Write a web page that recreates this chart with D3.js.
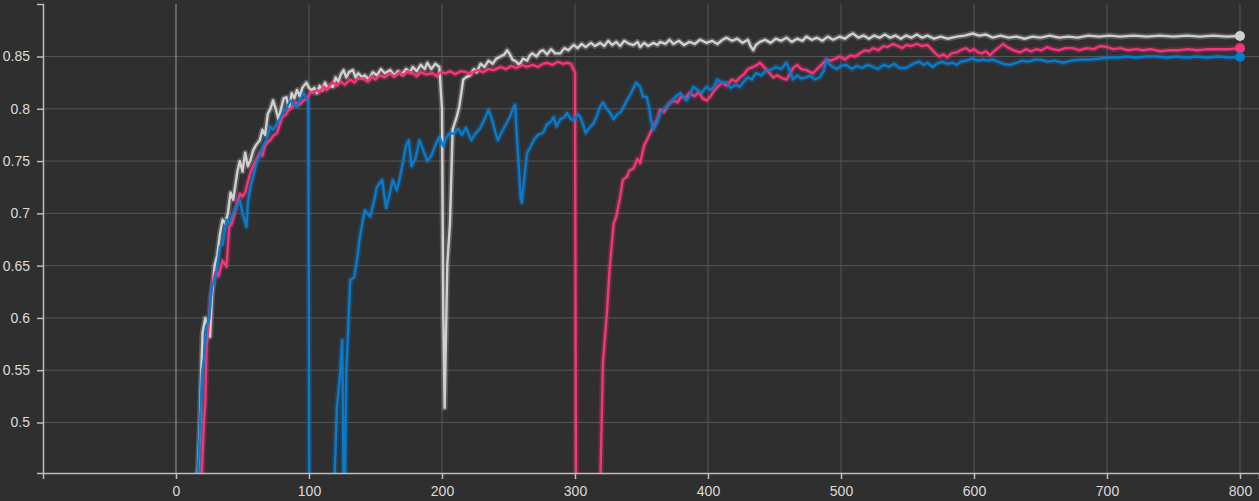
<!DOCTYPE html>
<html>
<head>
<meta charset="utf-8">
<script src="https://cdn.jsdelivr.net/npm/d3@7"></script>
<style>
  html, body { margin: 0; padding: 0; background: #2f2f2f; }
  svg { display: block; font-family: Roboto, "Noto Sans", sans-serif; }
  .axis text { fill: #dcdcdc; font-size: 14px; }
  .axis path, .axis line { stroke: #bdbdbd; }
</style>
</head>
<body>
<div id="chart"></div>
<script>

// x tick labels / y tick labels
var xTicks = [0, 100, 200, 300, 400, 500, 600, 700, 800];
var yTicks = [0.5, 0.55, 0.6, 0.65, 0.7, 0.75, 0.8, 0.85];

// smoothed runs, [step, value]
var grayRun = [[16,0.44],[18,0.50],[19,0.55],[20,0.586],[22,0.60],[24,0.59],[25.6,0.582],[27,0.62],[29,0.65],[31,0.66],[33,0.68],[35,0.694],[37,0.69],[39,0.70],[41,0.72],[43,0.713],[45,0.73],[46,0.739],[48,0.75],[50,0.74],[52,0.758],[54,0.745],[56,0.751],[58,0.76],[60,0.765],[63,0.77],[65,0.78],[67,0.775],[69,0.795],[71,0.80],[73,0.808],[75,0.80],[77,0.79],[79,0.80],[81,0.81],[83,0.811],[85,0.80],[87,0.815],[89,0.81],[91,0.818],[93,0.812],[95,0.82],[98,0.825],[100,0.82],[102,0.818],[104,0.82],[106,0.815],[108,0.822],[110,0.818],[112,0.825],[114,0.82],[116,0.822],[118,0.821],[120,0.83],[122,0.826],[124,0.833],[126,0.837],[128,0.83],[130,0.835],[133,0.837],[135,0.83],[137,0.834],[140,0.83],[142,0.832],[145,0.828],[148,0.835],[151,0.832],[154,0.838],[157,0.834],[161,0.837],[164,0.832],[167,0.836],[170,0.833],[173,0.838],[176,0.835],[178,0.84],[181,0.836],[184,0.842],[187,0.838],[189,0.844],[192,0.838],[195,0.843],[198,0.84],[200,0.80],[201,0.60],[202,0.514],[204,0.652],[206,0.69],[208,0.78],[211,0.792],[213,0.802],[216,0.828],[218,0.83],[221,0.832],[224,0.838],[226,0.835],[229,0.843],[232,0.84],[235,0.846],[238,0.843],[241,0.848],[244,0.85],[247,0.852],[249,0.856],[251,0.852],[253,0.847],[256,0.845],[258,0.842],[261,0.848],[264,0.846],[266,0.851],[268,0.853],[271,0.85],[274,0.855],[276,0.856],[279,0.852],[282,0.857],[285,0.853],[289,0.853],[292,0.858],[295,0.856],[299,0.861],[302,0.858],[305,0.862],[308,0.859],[312,0.863],[315,0.86],[319,0.863],[322,0.86],[325,0.865],[328,0.861],[331,0.864],[334,0.86],[337,0.865],[341,0.862],[344,0.861],[347,0.864],[349,0.859],[352,0.863],[355,0.86],[359,0.863],[362,0.861],[364,0.864],[368,0.862],[371,0.866],[374,0.862],[378,0.865],[382,0.861],[386,0.864],[390,0.862],[394,0.866],[399,0.863],[403,0.865],[407,0.862],[411,0.866],[414,0.868],[418,0.865],[422,0.867],[426,0.863],[430,0.866],[432,0.86],[434,0.856],[436,0.861],[439,0.864],[443,0.866],[447,0.863],[451,0.867],[455,0.865],[459,0.868],[463,0.864],[467,0.867],[471,0.865],[474,0.869],[478,0.866],[482,0.868],[486,0.865],[490,0.869],[494,0.866],[499,0.869],[503,0.867],[506,0.87],[509,0.872],[513,0.868],[517,0.87],[521,0.867],[525,0.87],[529,0.868],[533,0.871],[537,0.868],[541,0.87],[545,0.867],[549,0.87],[553,0.868],[557,0.871],[561,0.868],[565,0.87],[570,0.867],[575,0.869],[580,0.867],[587,0.869],[593,0.87],[599,0.872],[604,0.87],[609,0.871],[614,0.868],[620,0.87],[626,0.868],[632,0.869],[638,0.867],[644,0.869],[650,0.868],[657,0.87],[664,0.868],[671,0.869],[678,0.868],[686,0.87],[694,0.869],[702,0.87],[710,0.869],[720,0.87],[730,0.869],[740,0.87],[750,0.869],[760,0.87],[770,0.869],[780,0.87],[790,0.869],[800,0.8696]];

var pinkRun = [[19,0.44],[21,0.50],[22,0.519],[23,0.572],[25,0.60],[26,0.62],[28,0.636],[30,0.645],[32,0.64],[35,0.655],[38,0.649],[40,0.687],[42,0.69],[44,0.70],[46,0.71],[48,0.719],[50,0.716],[52,0.72],[54,0.73],[56,0.739],[58,0.745],[60,0.75],[63,0.758],[65,0.755],[67,0.765],[69,0.768],[71,0.77],[73,0.774],[76,0.777],[78,0.785],[80,0.792],[83,0.795],[85,0.80],[88,0.802],[90,0.806],[93,0.804],[96,0.808],[99,0.81],[101,0.816],[103,0.815],[106,0.818],[108,0.816],[111,0.821],[113,0.818],[116,0.823],[118,0.825],[121,0.822],[124,0.826],[127,0.823],[131,0.828],[134,0.825],[137,0.829],[141,0.829],[144,0.826],[147,0.831],[150,0.828],[153,0.832],[157,0.83],[161,0.834],[164,0.831],[168,0.835],[171,0.832],[174,0.836],[178,0.834],[181,0.831],[184,0.835],[188,0.833],[193,0.834],[196,0.831],[199,0.835],[203,0.834],[206,0.836],[210,0.833],[214,0.836],[218,0.835],[221,0.833],[223,0.835],[227,0.837],[231,0.835],[235,0.838],[239,0.837],[244,0.84],[248,0.838],[252,0.841],[256,0.839],[260,0.842],[264,0.84],[268,0.842],[272,0.84],[276,0.843],[279,0.844],[283,0.842],[287,0.845],[291,0.843],[294,0.844],[297,0.843],[299,0.837],[300,0.835],[301,0.3],[318,0.3],[319,0.44],[321,0.557],[324,0.605],[326,0.646],[329,0.69],[331,0.697],[334,0.716],[336,0.732],[339,0.735],[341,0.741],[344,0.743],[347,0.752],[349,0.748],[352,0.765],[354,0.77],[357,0.778],[359,0.783],[362,0.79],[364,0.799],[367,0.797],[370,0.804],[374,0.808],[377,0.806],[380,0.812],[383,0.81],[386,0.815],[390,0.812],[393,0.816],[396,0.81],[399,0.808],[402,0.812],[405,0.818],[408,0.822],[411,0.825],[414,0.822],[418,0.828],[421,0.826],[424,0.83],[427,0.833],[430,0.838],[434,0.84],[437,0.842],[439,0.844],[442,0.84],[445,0.836],[449,0.83],[452,0.832],[456,0.829],[459,0.828],[462,0.834],[464,0.839],[467,0.842],[470,0.838],[474,0.837],[477,0.835],[479,0.834],[482,0.838],[486,0.843],[489,0.847],[492,0.846],[496,0.848],[499,0.85],[503,0.847],[507,0.851],[511,0.85],[514,0.853],[518,0.856],[521,0.855],[524,0.858],[528,0.856],[532,0.86],[535,0.859],[539,0.862],[543,0.86],[546,0.858],[549,0.861],[553,0.86],[557,0.862],[561,0.86],[565,0.861],[568,0.857],[571,0.853],[574,0.85],[577,0.852],[580,0.849],[583,0.853],[587,0.854],[590,0.856],[594,0.858],[597,0.855],[600,0.857],[603,0.854],[606,0.853],[609,0.855],[612,0.851],[615,0.855],[619,0.859],[622,0.862],[625,0.859],[628,0.857],[632,0.855],[635,0.854],[639,0.857],[643,0.855],[647,0.857],[651,0.856],[655,0.859],[659,0.857],[664,0.856],[669,0.858],[674,0.858],[679,0.856],[685,0.858],[690,0.857],[695,0.86],[700,0.859],[705,0.857],[710,0.858],[716,0.856],[722,0.857],[727,0.856],[733,0.857],[740,0.855],[747,0.856],[754,0.856],[761,0.857],[768,0.856],[776,0.857],[784,0.857],[792,0.857],[800,0.858]];

var blueRun = [[16,0.44],[17.5,0.48],[19.5,0.547],[21,0.56],[23,0.592],[25,0.60],[27,0.63],[29,0.635],[31,0.649],[33,0.668],[35,0.67],[38,0.694],[40,0.69],[43,0.70],[45,0.705],[48,0.713],[50,0.70],[53,0.687],[54,0.71],[56,0.725],[58,0.735],[61,0.751],[63,0.755],[65,0.763],[68,0.77],[71,0.783],[73,0.78],[76,0.786],[78,0.79],[80,0.796],[83,0.80],[86,0.808],[88,0.805],[91,0.802],[93,0.808],[96,0.815],[98,0.81],[99.5,0.808],[100.5,0.3],[118,0.3],[119,0.44],[121,0.515],[123,0.54],[125,0.579],[126,0.44],[127,0.44],[128,0.547],[131,0.636],[134,0.639],[136,0.655],[138,0.675],[140,0.69],[142,0.703],[144,0.70],[146,0.697],[149,0.712],[151,0.725],[155,0.732],[158,0.705],[160,0.715],[163,0.732],[166,0.722],[168,0.732],[171,0.751],[173,0.765],[175,0.77],[177,0.745],[180,0.752],[183,0.77],[186,0.76],[189,0.75],[192,0.755],[195,0.765],[198,0.773],[201,0.764],[203,0.772],[206,0.777],[209,0.776],[212,0.781],[215,0.775],[218,0.782],[222,0.77],[225,0.776],[229,0.782],[232,0.79],[235,0.799],[238,0.788],[240,0.778],[242,0.77],[245,0.778],[248,0.785],[251,0.792],[254,0.802],[255,0.804],[256,0.78],[258,0.74],[259,0.716],[260,0.71],[262,0.735],[264,0.758],[266,0.762],[269,0.77],[272,0.775],[276,0.777],[279,0.785],[282,0.788],[284,0.792],[286,0.783],[289,0.79],[292,0.792],[294,0.796],[297,0.79],[299,0.789],[302,0.795],[304,0.792],[306,0.785],[308,0.777],[311,0.782],[314,0.786],[317,0.795],[319,0.802],[321,0.806],[324,0.80],[327,0.795],[329,0.79],[332,0.795],[334,0.796],[337,0.803],[339,0.808],[341,0.812],[344,0.82],[346,0.825],[349,0.821],[351,0.812],[354,0.811],[356,0.799],[357,0.79],[359,0.78],[362,0.788],[364,0.796],[367,0.80],[369,0.802],[372,0.806],[376,0.812],[379,0.815],[381,0.812],[384,0.808],[387,0.815],[389,0.821],[392,0.818],[395,0.815],[399,0.821],[402,0.818],[405,0.822],[407,0.828],[410,0.825],[414,0.825],[417,0.82],[421,0.823],[424,0.821],[427,0.826],[430,0.83],[433,0.828],[436,0.834],[440,0.832],[444,0.837],[447,0.837],[451,0.84],[455,0.838],[459,0.844],[461,0.838],[464,0.828],[467,0.832],[470,0.829],[474,0.83],[477,0.832],[480,0.828],[484,0.83],[487,0.836],[489,0.847],[491,0.843],[494,0.84],[497,0.838],[500,0.841],[504,0.842],[508,0.838],[512,0.841],[516,0.839],[520,0.842],[524,0.84],[528,0.838],[532,0.842],[536,0.84],[540,0.843],[544,0.839],[549,0.839],[553,0.842],[556,0.844],[559,0.845],[562,0.842],[565,0.844],[569,0.84],[572,0.843],[576,0.845],[580,0.843],[584,0.844],[587,0.842],[590,0.845],[594,0.846],[599,0.848],[603,0.846],[607,0.847],[611,0.846],[614,0.847],[618,0.845],[622,0.843],[627,0.842],[632,0.844],[636,0.846],[641,0.845],[646,0.847],[650,0.847],[655,0.845],[661,0.846],[667,0.844],[673,0.846],[680,0.847],[687,0.847],[694,0.848],[701,0.849],[708,0.849],[715,0.85],[722,0.849],[730,0.85],[737,0.85],[745,0.849],[752,0.85],[760,0.849],[768,0.85],[775,0.849],[783,0.85],[792,0.849],[800,0.8496]];

var runs = [
  {name: "gray", color: "#d0d0d0", values: grayRun},
  {name: "pink", color: "#f4347b", values: pinkRun},
  {name: "blue", color: "#0a7acb", values: blueRun}
];

var margin = {top: 4, right: 0, bottom: 28, left: 43},
    width = 1259 - margin.left - margin.right,
    height = 501 - margin.top - margin.bottom;

var x = d3.scaleLinear().domain([-100, 814.3]).range([0, width]);
var y = d3.scaleLinear().domain([0.4517, 0.9002]).range([height, 0]);

var svg = d3.select("#chart").append("svg")
    .attr("width", width + margin.left + margin.right)
    .attr("height", height + margin.top + margin.bottom)
  .append("g")
    .attr("transform", "translate(" + margin.left + "," + margin.top + ")");

svg.append("defs").append("clipPath").attr("id", "clip")
  .append("rect").attr("width", width).attr("height", height);

// grid
svg.append("g").selectAll("line").data(yTicks).enter().append("line")
    .attr("x1", 0).attr("x2", width)
    .attr("y1", function(d) { return y(d); })
    .attr("y2", function(d) { return y(d); })
    .attr("stroke", "#555").attr("stroke-width", 1);

svg.append("g").selectAll("line").data(xTicks).enter().append("line")
    .attr("x1", function(d) { return x(d); })
    .attr("x2", function(d) { return x(d); })
    .attr("y1", 0).attr("y2", height)
    .attr("stroke", function(d) { return d === 0 ? "#9a9a9a" : "#575757"; })
    .attr("stroke-width", 1);

var line = d3.line()
    .x(function(d) { return x(d[0]); })
    .y(function(d) { return y(d[1]); });

var plot = svg.append("g").attr("clip-path", "url(#clip)");

// faint halo standing in for the raw points
runs.forEach(function(r) {
  plot.append("path")
      .datum(r.values)
      .attr("fill", "none")
      .attr("stroke", r.color)
      .attr("stroke-opacity", 0.25)
      .attr("stroke-width", 6)
      .attr("stroke-linejoin", "round")
      .attr("d", line);
});

runs.forEach(function(r) {
  plot.append("path")
      .datum(r.values)
      .attr("fill", "none")
      .attr("stroke", r.color)
      .attr("stroke-width", 2.4)
      .attr("stroke-linejoin", "round")
      .attr("d", line);
});

// end markers
runs.forEach(function(r) {
  var last = r.values[r.values.length - 1];
  svg.append("circle")
      .attr("cx", x(last[0]))
      .attr("cy", y(last[1]))
      .attr("r", 5)
      .attr("fill", r.color);
});

// axes
svg.append("g")
    .attr("class", "x axis")
    .attr("transform", "translate(0," + height + ")")
    .call(d3.axisBottom(x).tickValues(xTicks).tickSize(6).tickPadding(7))
    .call(function(g) { g.selectAll("path, line").attr("stroke", "#bdbdbd").attr("stroke-width", 1.5); });

svg.append("g")
    .attr("class", "y axis")
    .call(d3.axisLeft(y).tickValues(yTicks).tickFormat(d3.format("")).tickSize(6).tickPadding(7))
    .call(function(g) { g.selectAll("path, line").attr("stroke", "#bdbdbd").attr("stroke-width", 1.5); });

svg.selectAll(".axis text").attr("fill", "#dcdcdc").style("font-size", "14px");

</script>
</body>
</html>
